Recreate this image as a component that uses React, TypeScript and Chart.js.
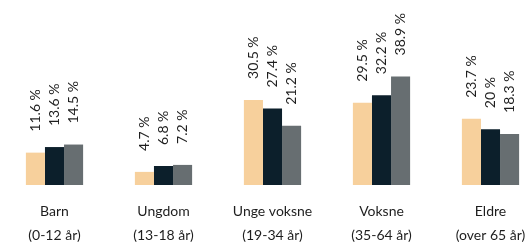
import React, { useEffect, useRef } from "react";
import { Chart, registerables } from "chart.js";

Chart.register(...registerables);

const categories: string[][] = [
  ["Barn", "(0-12 år)"],
  ["Ungdom", "(13-18 år)"],
  ["Unge voksne", "(19-34 år)"],
  ["Voksne", "(35-64 år)"],
  ["Eldre", "(over 65 år)"],
];
const seriesA = [11.6, 4.7, 30.5, 29.5, 23.7];
const seriesB = [13.6, 6.8, 27.4, 32.2, 20];
const seriesC = [14.5, 7.2, 21.2, 38.9, 18.3];
const colors = ["#f7d09c", "#0c1f2b", "#676e71"];

const FONT = "Lato, 'Noto Sans', sans-serif";

const valueLabels = {
  id: "valueLabels",
  afterDatasetsDraw(chart: any) {
    const ctx = chart.ctx;
    ctx.save();
    ctx.fillStyle = "#1e1e1e";
    ctx.font = `14px ${FONT}`;
    ctx.textAlign = "left";
    ctx.textBaseline = "middle";
    chart.data.datasets.forEach((ds: any, di: number) => {
      const meta = chart.getDatasetMeta(di);
      meta.data.forEach((el: any, i: number) => {
        const v = ds.data[i];
        ctx.save();
        ctx.translate(el.x, el.y - 21);
        ctx.rotate(-Math.PI / 2);
        ctx.fillText(`${v} %`, 0, 0);
        ctx.restore();
      });
    });
    ctx.restore();
  },
};

export default function App() {
  const ref = useRef<HTMLCanvasElement | null>(null);
  useEffect(() => {
    if (!ref.current) return;
    const chart = new Chart(ref.current, {
      type: "bar",
      data: {
        labels: categories as any,
        datasets: [
          { data: seriesA, backgroundColor: colors[0] },
          { data: seriesB, backgroundColor: colors[1] },
          { data: seriesC, backgroundColor: colors[2] },
        ],
      },
      options: {
        responsive: false,
        animation: false,
        layout: { padding: 0 },
        plugins: { legend: { display: false }, tooltip: { enabled: false } },
        datasets: { bar: { categoryPercentage: 0.525, barPercentage: 1 } } as any,
        scales: {
          x: {
            grid: { display: false, drawTicks: false },
            border: { display: false },
            ticks: {
              padding: 14,
              color: "#1e1e1e",
              font: { family: FONT, size: 14, lineHeight: 24 / 14 },
              maxRotation: 0,
              autoSkip: false,
            },
            afterFit: (axis: any) => {
              axis.height = 59;
            },
          },
          y: {
            display: false,
            min: 0,
            max: 66.3,
          },
        },
      },
      plugins: [valueLabels],
    });
    return () => chart.destroy();
  }, []);
  return (
    <div
      style={{
        position: "fixed",
        left: 0,
        top: 0,
        width: 531,
        height: 244,
        overflow: "hidden",
        background: "#fff",
      }}
    >
      <canvas ref={ref} width={545} height={244} style={{ display: "block", width: 545, height: 244 }} />
    </div>
  );
}
